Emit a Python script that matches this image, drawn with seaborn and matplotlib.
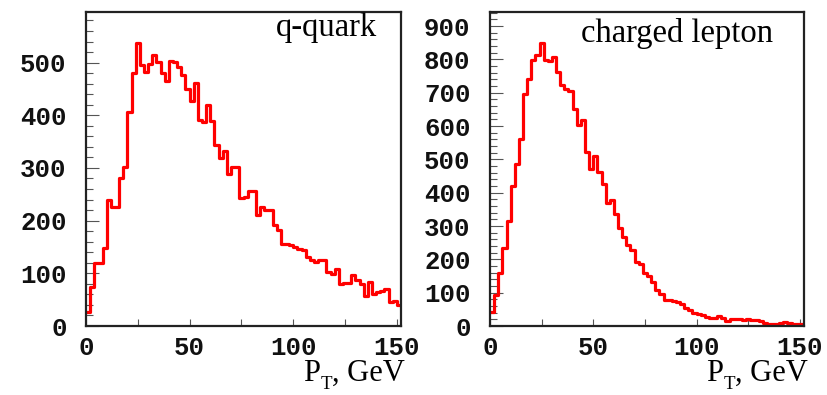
import numpy as np
import pandas as pd
import matplotlib
matplotlib.use("Agg")
import matplotlib.pyplot as plt
from matplotlib.ticker import MultipleLocator, FixedLocator
import seaborn as sns

# ---- data (bin contents, 2 GeV bins from 0 to 152 GeV) ----
bin_edges = list(range(0, 154, 2))
quark_counts = [27, 74, 120, 120, 149, 240, 226, 226, 281, 302,
                406, 480, 537, 495, 482, 498, 514, 501, 480, 465,
                503, 501, 491, 476, 450, 428, 461, 391, 387, 420,
                390, 343, 319, 332, 289, 302, 302, 243, 245, 256,
                256, 210, 225, 220, 220, 191, 182, 156, 155, 153,
                150, 147, 145, 131, 125, 121, 125, 126, 102, 98,
                109, 80, 82, 82, 96, 88, 80, 56, 84, 61,
                65, 66, 71, 46, 48, 39]
lepton_counts = [42, 92, 159, 235, 315, 421, 487, 562, 697, 742,
                 799, 812, 849, 799, 795, 807, 762, 722, 712, 705,
                 650, 602, 619, 522, 472, 510, 462, 427, 369, 377,
                 335, 295, 267, 242, 227, 192, 185, 159, 150, 132,
                 109, 97, 79, 79, 76, 72, 65, 55, 47, 40,
                 37, 32, 27, 24, 24, 30, 24, 15, 20, 22,
                 20, 19, 22, 19, 17, 15, 9, 7, 7, 7,
                 9, 12, 10, 7, 5, 5]
panel_titles = ["q-quark", "charged lepton"]
x_ticks = [0, 50, 100, 150]
y_ticks_1 = [0, 100, 200, 300, 400, 500]
y_ticks_2 = [0, 100, 200, 300, 400, 500, 600, 700, 800, 900]
x_label_main = "P"
x_label_sub = "T"
x_label_rest = ", GeV"

sns.set_style("white")
plt.rcParams["font.family"] = ["Liberation Serif", "DejaVu Serif"]

W, H = 828, 395
fig = plt.figure(figsize=(W / 100, H / 100), dpi=100)

def px_axes(left, right, top, bottom):
    return fig.add_axes([left / W, 1 - bottom / H, (right - left) / W, (bottom - top) / H])

ax1 = px_axes(86, 401, 12, 326)
ax2 = px_axes(490, 804, 12, 326)

centers = [(bin_edges[i] + bin_edges[i + 1]) / 2 for i in range(len(bin_edges) - 1)]
configs = [
    (ax1, quark_counts, 596, y_ticks_1, panel_titles[0], (377, 36), 405),
    (ax2, lepton_counts, 942, y_ticks_2, panel_titles[1], (773, 42), 808),
]

tick_font = dict(family="Liberation Mono", weight="bold", size=18.5)
frame_col = "#222222"

fig.canvas.draw()
renderer = fig.canvas.get_renderer()

for ax, counts, ymax, yt, title, (tx, ty), xl_right in configs:
    df = pd.DataFrame({"pt": centers, "n": counts})
    sns.histplot(data=df, x="pt", weights="n", bins=bin_edges, element="step",
                 fill=False, color="#ff0000", linewidth=2.3, ax=ax)
    ax.set_xlim(0, 152)
    ax.set_ylim(0, ymax)
    ax.set_xlabel("")
    ax.set_ylabel("")
    for s in ax.spines.values():
        s.set_visible(True)
        s.set_color(frame_col)
        s.set_linewidth(1.6)
    ax.xaxis.set_major_locator(FixedLocator(x_ticks))
    ax.xaxis.set_minor_locator(FixedLocator([25, 75, 125]))
    ax.yaxis.set_major_locator(FixedLocator(yt))
    ax.yaxis.set_minor_locator(MultipleLocator(20))
    ax.tick_params(axis="x", which="both", direction="in", length=5, width=0.8,
                   color="#555555", bottom=True, top=False, pad=7)
    ax.tick_params(axis="y", which="major", direction="in", length=9.5, width=0.8,
                   color="#555555", left=True, right=False, pad=14)
    ax.tick_params(axis="y", which="minor", direction="in", length=5, width=0.8,
                   color="#555555", left=True, right=False)
    for lab in ax.get_xticklabels() + ax.get_yticklabels():
        lab.set_fontfamily(tick_font["family"])
        lab.set_fontweight(tick_font["weight"])
        lab.set_fontsize(tick_font["size"])
        lab.set_color("#111111")
    # panel title
    ax.text(tx / W, 1 - ty / H, title, transform=fig.transFigure,
            ha="right", va="baseline", fontsize=23.5, color="black")
    # axis title P_T, GeV (built right-to-left so the subscript sits low)
    fs = 22
    t_rest = fig.text(xl_right / W, 1 - 381 / H, x_label_rest, ha="right",
                      va="baseline", fontsize=fs, color="black")
    bb = t_rest.get_window_extent(renderer)
    t_sub = fig.text(bb.x0 / W, 1 - 389 / H, x_label_sub, ha="right",
                     va="baseline", fontsize=fs * 0.62, color="black")
    bb2 = t_sub.get_window_extent(renderer)
    fig.text(bb2.x0 / W, 1 - 381 / H, x_label_main, ha="right",
             va="baseline", fontsize=fs, color="black")

fig.savefig("out.png", dpi=100)
